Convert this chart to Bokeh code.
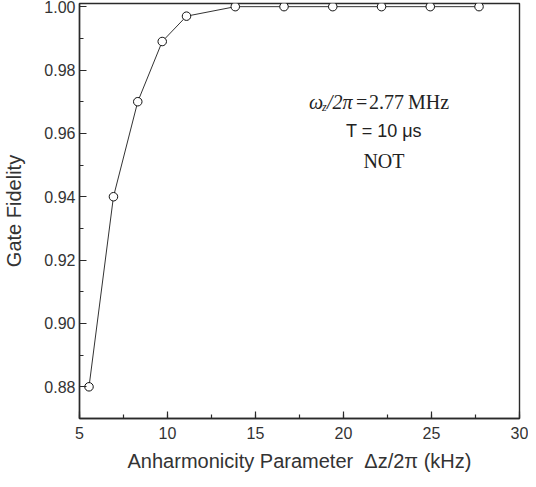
from bokeh.plotting import figure
from bokeh.models import SingleIntervalTicker, NumeralTickFormatter, Label
from bokeh.embed import file_html
from bokeh.resources import INLINE

# data
delta_khz = [5.54, 6.93, 8.31, 9.70, 11.08, 13.85, 16.62, 19.39, 22.16, 24.93, 27.70]
fidelity = [0.880, 0.940, 0.970, 0.989, 0.997, 1.000, 1.000, 1.000, 1.000, 1.000, 1.000]

SANS = "Liberation Sans"
SERIF = "Liberation Serif"
AX = "#2a2a2a"
TXT = "#333333"

p = figure(width=528, height=479, x_range=(5, 30), y_range=(0.87, 1.001),
           output_backend="svg", toolbar_location=None,
           min_border_left=72, min_border_right=9, min_border_top=3, min_border_bottom=61)

p.xgrid.visible = False
p.ygrid.visible = False
p.outline_line_color = AX
p.outline_line_width = 1.4
p.background_fill_color = "white"
p.border_fill_color = "white"

p.line(delta_khz, fidelity, line_color="#333333", line_width=1)
p.scatter(delta_khz, fidelity, size=8.5, marker="circle", fill_color="white",
          line_color="#111111", line_width=1)

p.xaxis.ticker = SingleIntervalTicker(interval=5, num_minor_ticks=2)
p.yaxis.ticker = SingleIntervalTicker(interval=0.02, num_minor_ticks=2)
p.yaxis.formatter = NumeralTickFormatter(format="0.00")

for ax in (p.xaxis, p.yaxis):
    ax.axis_line_color = AX
    ax.axis_line_width = 1.4
    ax.major_tick_in = 7
    ax.major_tick_out = 0
    ax.minor_tick_in = 4
    ax.minor_tick_out = 0
    ax.major_tick_line_color = AX
    ax.major_tick_line_width = 1.2
    ax.minor_tick_line_color = AX
    ax.minor_tick_line_width = 1.2
    ax.major_label_text_font = SANS
    ax.major_label_text_font_size = "16px"
    ax.major_label_text_color = TXT
    ax.axis_label_text_font = SANS
    ax.axis_label_text_font_size = "20px"
    ax.axis_label_text_font_style = "normal"
    ax.axis_label_text_color = TXT

p.xaxis.major_label_standoff = 8
p.yaxis.major_label_standoff = 4
p.xaxis.axis_label = "Anharmonicity Parameter\u00a0 \u0394z/2\u03c0 (kHz)"
p.yaxis.axis_label = "Gate Fidelity"
p.xaxis.axis_label_standoff = 8
p.yaxis.axis_label_standoff = 16

# annotation block (centred on one data position)
ax_x = 22.3
y1, y2, y3 = 0.9700, 0.9608, 0.9513
parts = [
    ("\u03c9", -75, 0, "20px", "italic"),
    ("z", -62, -5, "12px", "italic"),
    ("/2\u03c0", -57, 0, "20px", "italic"),
    ("=", -28, 0, "20px", "normal"),
    ("2.77", -15, 0, "20px", "normal"),
    ("MHz", 24, 0, "20px", "normal"),
]
for txt, xo, yo, fs, st in parts:
    p.add_layout(Label(x=ax_x, y=y1, text=txt, x_offset=xo, y_offset=yo,
                       text_font=SERIF, text_font_size=fs, text_font_style=st,
                       text_color="#222222", text_align="left", text_baseline="middle"))
p.add_layout(Label(x=ax_x, y=y2, text="T = 10 \u03bcs", text_font=SANS, text_font_size="18px",
                   text_color="#222222", text_align="center", text_baseline="middle"))
p.add_layout(Label(x=ax_x, y=y3, text="NOT", text_font=SERIF, text_font_size="20px",
                   text_color="#222222", text_align="center", text_baseline="middle"))

open("out.html", "w").write(file_html(p, INLINE))
